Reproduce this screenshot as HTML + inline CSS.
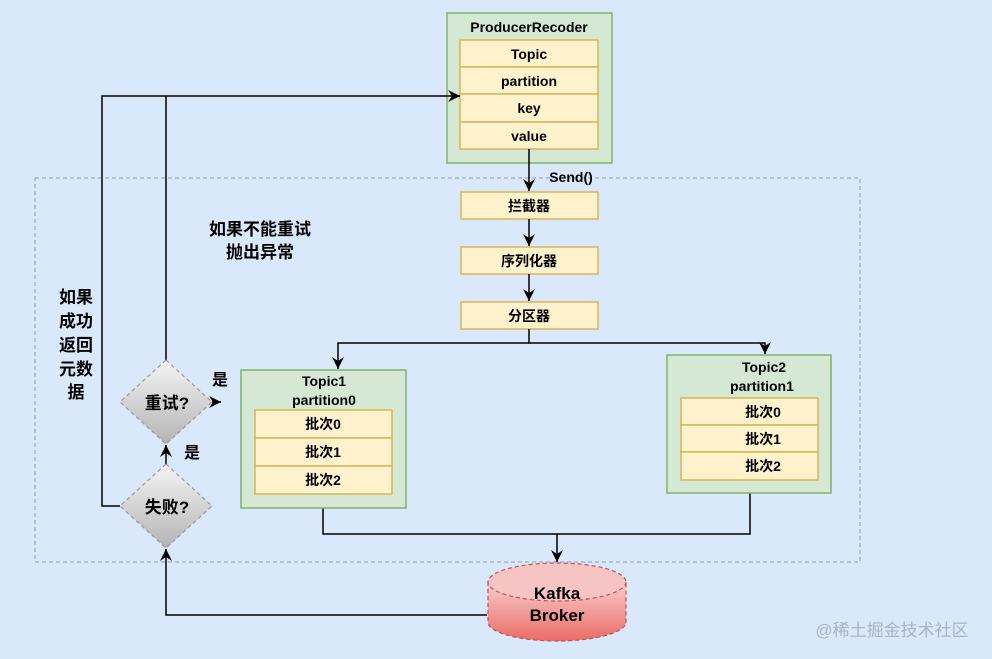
<!DOCTYPE html>
<html><head><meta charset="utf-8"><style>
html,body{margin:0;padding:0;background:#dae8fc;}
svg{display:block;font-family:"Liberation Sans","Noto Sans CJK SC",sans-serif;font-weight:bold;}
</style></head><body>
<svg width="992" height="659" viewBox="0 0 992 659" xmlns="http://www.w3.org/2000/svg">
<defs>
<marker id="a" markerWidth="14" markerHeight="14" refX="12" refY="6" orient="auto" markerUnits="userSpaceOnUse"><path d="M0,0 L12,6 L0,12 L4,6 z" fill="#000"/></marker>
<linearGradient id="g" x1="0" y1="0" x2="0" y2="1"><stop offset="0" stop-color="#f5f5f5"/><stop offset="1" stop-color="#b3b3b3"/></linearGradient>
<linearGradient id="r" x1="0" y1="0" x2="0" y2="1"><stop offset="0" stop-color="#f8cecc"/><stop offset="1" stop-color="#ea6b66"/></linearGradient>
</defs>
<rect x="0" y="0" width="992" height="659" fill="#dae8fc"/>
<rect x="35" y="178" width="825" height="384" fill="none" stroke="#8a9bb0" stroke-dasharray="4 3"/>

<rect x="447" y="13" width="165" height="150" fill="#d5e8d4" stroke="#82b366" stroke-width="1.5"/>
<text x="529" y="32" font-size="14" text-anchor="middle">ProducerRecoder</text>
<g fill="#fff2cc" stroke="#d6b656" stroke-width="1.5">
<rect x="460" y="40" width="138" height="27"/><rect x="460" y="67" width="138" height="27"/>
<rect x="460" y="94" width="138" height="28"/><rect x="460" y="122" width="138" height="27"/>
<rect x="461" y="192" width="137" height="27"/><rect x="461" y="247" width="137" height="27"/><rect x="461" y="302" width="137" height="27"/>
</g>
<g font-size="14" text-anchor="middle">
<text x="529" y="59">Topic</text><text x="529" y="86">partition</text><text x="529" y="113">key</text><text x="529" y="141">value</text>
<text x="529" y="211">拦截器</text><text x="529" y="266">序列化器</text><text x="529" y="321">分区器</text>
</g>
<text x="571" y="182" font-size="14" text-anchor="middle">Send()</text>

<g stroke="#000" stroke-width="1.5" fill="none">
<path d="M529,149 V191" marker-end="url(#a)"/>
<path d="M529,219 V246" marker-end="url(#a)"/>
<path d="M529,274 V301" marker-end="url(#a)"/>
<path d="M529,329 V343 H338 V369" marker-end="url(#a)"/>
<path d="M529,343 H765 V354" marker-end="url(#a)"/>
<path d="M323,508 V534 H750 V493"/>
<path d="M557,534 V562" marker-end="url(#a)"/>
<path d="M487,615 H166 V549" marker-end="url(#a)"/>
<path d="M166,464 V445" marker-end="url(#a)"/>
<path d="M212,402 H221" marker-end="url(#a)"/>
<path d="M166,360 V96"/>
<path d="M120,506 H102 V96 H460" marker-end="url(#a)"/>
</g>

<rect x="241" y="370" width="165" height="138" fill="#d5e8d4" stroke="#82b366" stroke-width="1.5"/>
<text x="324" y="386" font-size="14" text-anchor="middle">Topic1</text>
<text x="324" y="405" font-size="14" text-anchor="middle">partition0</text>
<g fill="#fff2cc" stroke="#d6b656" stroke-width="1.5">
<rect x="255" y="410" width="137" height="28"/><rect x="255" y="438" width="137" height="28"/><rect x="255" y="466" width="137" height="28"/>
</g>
<g font-size="14" text-anchor="middle"><text x="323" y="429">批次0</text><text x="323" y="457">批次1</text><text x="323" y="485">批次2</text></g>

<rect x="667" y="355" width="164" height="138" fill="#d5e8d4" stroke="#82b366" stroke-width="1.5"/>
<text x="764" y="372" font-size="14" text-anchor="middle">Topic2</text>
<text x="762" y="391" font-size="14" text-anchor="middle">partition1</text>
<g fill="#fff2cc" stroke="#d6b656" stroke-width="1.5">
<rect x="681" y="398" width="137" height="27"/><rect x="681" y="425" width="137" height="27"/><rect x="681" y="452" width="137" height="28"/>
</g>
<g font-size="14" text-anchor="middle"><text x="763" y="417">批次0</text><text x="763" y="444">批次1</text><text x="763" y="471">批次2</text></g>

<g stroke="#999" stroke-dasharray="4 3" stroke-width="1.2" fill="url(#g)">
<path d="M166,360 L212,402 L166,444 L120,402 Z"/>
<path d="M166,464 L212,506 L166,548 L120,506 Z"/>
</g>
<text x="167" y="409" font-size="17" text-anchor="middle">重试?</text>
<text x="167" y="513" font-size="17" text-anchor="middle">失败?</text>
<text x="220" y="385" font-size="16" text-anchor="middle">是</text>
<text x="192" y="458" font-size="16" text-anchor="middle">是</text>

<g stroke="#b85450" stroke-dasharray="4 3" stroke-width="1.2">
<path d="M488,582 V622 A69,19 0 0 0 626,622 V582" fill="url(#r)"/>
<ellipse cx="557" cy="582" rx="69" ry="19" fill="#f6c4c2"/>
</g>
<text x="557" y="599" font-size="17" text-anchor="middle">Kafka</text>
<text x="557" y="621" font-size="17" text-anchor="middle">Broker</text>

<g font-size="17" text-anchor="middle">
<text x="260" y="235">如果不能重试</text><text x="260" y="258">抛出异常</text>
<text x="76" y="303">如果</text><text x="76" y="327">成功</text><text x="76" y="351">返回</text><text x="76" y="375">元数</text><text x="76" y="398">据</text>
</g>
<text x="892" y="636" font-size="17" font-weight="normal" fill="#aab4c2" text-anchor="middle">@稀土掘金技术社区</text>
</svg>
</body></html>
